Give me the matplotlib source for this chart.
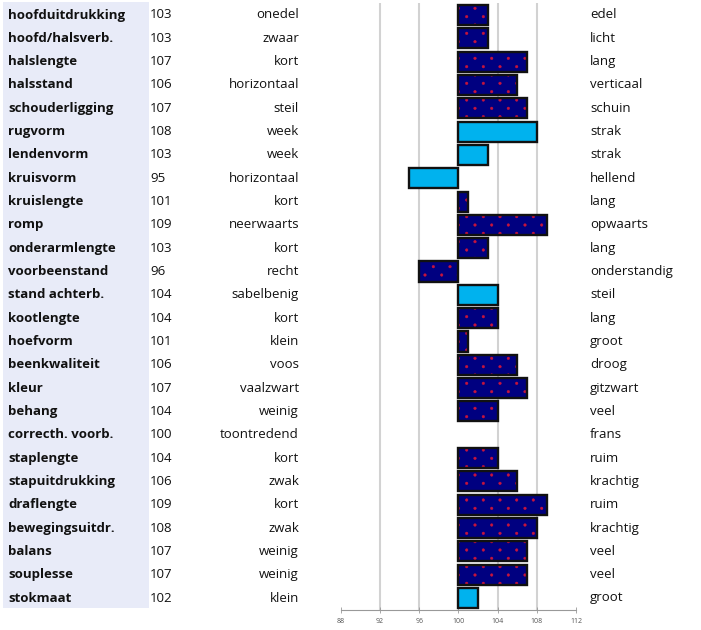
import numpy as np
import matplotlib
matplotlib.use("Agg")
import matplotlib.pyplot as plt
import matplotlib.patches as mpatches
import matplotlib.hatch as mhatch
from matplotlib.path import Path

traits = ["hoofduitdrukking", "hoofd/halsverb.", "halslengte", "halsstand", "schouderligging",
          "rugvorm", "lendenvorm", "kruisvorm", "kruislengte", "romp", "onderarmlengte",
          "voorbeenstand", "stand achterb.", "kootlengte", "hoefvorm", "beenkwaliteit", "kleur",
          "behang", "correcth. voorb.", "staplengte", "stapuitdrukking", "draflengte",
          "bewegingsuitdr.", "balans", "souplesse", "stokmaat"]
values = [103, 103, 107, 106, 107, 108, 103, 95, 101, 109, 103, 96, 104, 104, 101, 106, 107,
          104, 100, 104, 106, 109, 108, 107, 107, 102]
left_desc = ["onedel", "zwaar", "kort", "horizontaal", "steil", "week", "week", "horizontaal",
             "kort", "neerwaarts", "kort", "recht", "sabelbenig", "kort", "klein", "voos",
             "vaalzwart", "weinig", "toontredend", "kort", "zwak", "kort", "zwak", "weinig",
             "weinig", "klein"]
right_desc = ["edel", "licht", "lang", "verticaal", "schuin", "strak", "strak", "hellend", "lang",
              "opwaarts", "lang", "onderstandig", "steil", "lang", "groot", "droog", "gitzwart",
              "veel", "frans", "ruim", "krachtig", "ruim", "krachtig", "veel", "veel", "groot"]
light_rows = ["rugvorm", "lendenvorm", "kruisvorm", "stand achterb.", "stokmaat"]
xticks = [88, 92, 96, 100, 104, 108, 112]
grid_x = [92, 96, 104, 108]


# custom dot hatch: staggered lattice, dense vertically, sparse horizontally
class DotLattice(mhatch.HatchPatternBase):
    def __init__(self, hatch, density):
        k = hatch.count('.')
        self.ncols = k * density
        self.nrows = 2 * k * density
        circ = Path.unit_circle()
        self.shape_vertices = circ.vertices
        self.shape_codes = circ.codes
        if k == 0:
            self.num_vertices = 0
            self.num_shapes = 0
        else:
            shapes = 0
            for r in range(self.nrows + 1):
                shapes += (self.ncols + 1) if r % 2 == 0 else self.ncols
            self.num_shapes = shapes
            self.num_vertices = shapes * len(self.shape_vertices)

    def set_vertices_and_codes(self, vertices, codes):
        dx = 1.0 / self.ncols
        dy = 1.0 / self.nrows
        sv = self.shape_vertices * 0.013
        vparts, cparts = [], []
        for r in range(self.nrows + 1):
            if r % 2 == 0:
                cols = np.linspace(0, 1, self.ncols + 1)
            else:
                cols = np.linspace(dx / 2, 1 - dx / 2, self.ncols)
            for c in cols:
                vparts.append(sv + [c, r * dy])
                cparts.append(self.shape_codes)
        np.concatenate(vparts, out=vertices)
        np.concatenate(cparts, out=codes)


mhatch._hatch_types = [t for t in mhatch._hatch_types if t is not mhatch.SmallFilledCircles]
mhatch._hatch_types.append(DotLattice)

W, H = 701, 630
fig = plt.figure(figsize=(W / 100, H / 100), dpi=100)
plt.rcParams['font.family'] = ['Open Sans', 'DejaVu Sans']
plt.rcParams['hatch.linewidth'] = 0.3

# background panel for labels
fig.patches.append(mpatches.Rectangle((3 / W, 1 - 608 / H), 146 / W, 606 / H,
                                      transform=fig.transFigure, facecolor="#e8ebf8",
                                      edgecolor="none", zorder=0))

ax_l, ax_r = 340.7, 576.0
ax_t, ax_b = 3.0, 610.0
ax = fig.add_axes([ax_l / W, 1 - ax_b / H, (ax_r - ax_l) / W, (ax_b - ax_t) / H])
ax.set_facecolor("none")
n = len(traits)
row0, step = 15.0, 23.32
ax.set_ylim((ax_b - row0) / step, (ax_t - row0) / step)
ax.set_xlim(88, 112)

for gx in grid_x:
    ax.axvline(gx, color="#d2d2d2", lw=1.5, zorder=0.5)

base = 100
bh = 0.86
for i, (t, v) in enumerate(zip(traits, values)):
    if v == base:
        continue
    if t in light_rows:
        ax.barh(i, v - base, left=base, height=bh, color="#00b2ee", edgecolor="#111111",
                lw=1.7, zorder=2)
    else:
        ax.barh(i, v - base, left=base, height=bh, color="#000080", edgecolor="#c8143c",
                hatch=".", lw=0, zorder=2)
        ax.barh(i, v - base, left=base, height=bh, color="none", edgecolor="#111111",
                lw=1.7, zorder=3)

for s in ["top", "left", "right"]:
    ax.spines[s].set_visible(False)
ax.spines["bottom"].set_color("#999999")
ax.spines["bottom"].set_linewidth(0.8)
ax.set_yticks([])
ax.set_xticks(xticks)
ax.set_xticklabels([str(x) for x in xticks], fontsize=5, color="#555555")
ax.tick_params(axis="x", direction="inout", length=4, width=0.6, color="#999999", pad=4)

for i in range(n):
    y = 1 - (row0 + step * i) / H
    fig.text(8 / W, y, traits[i], fontsize=9.5, fontweight="bold", ha="left", va="center",
             color="#111111")
    fig.text(150 / W, y, str(values[i]), fontsize=9.5, ha="left", va="center", color="#111111")
    fig.text(299 / W, y, left_desc[i], fontsize=9.5, ha="right", va="center", color="#111111")
    fig.text(590 / W, y, right_desc[i], fontsize=9.5, ha="left", va="center", color="#111111")

fig.savefig("out.png", dpi=100)
